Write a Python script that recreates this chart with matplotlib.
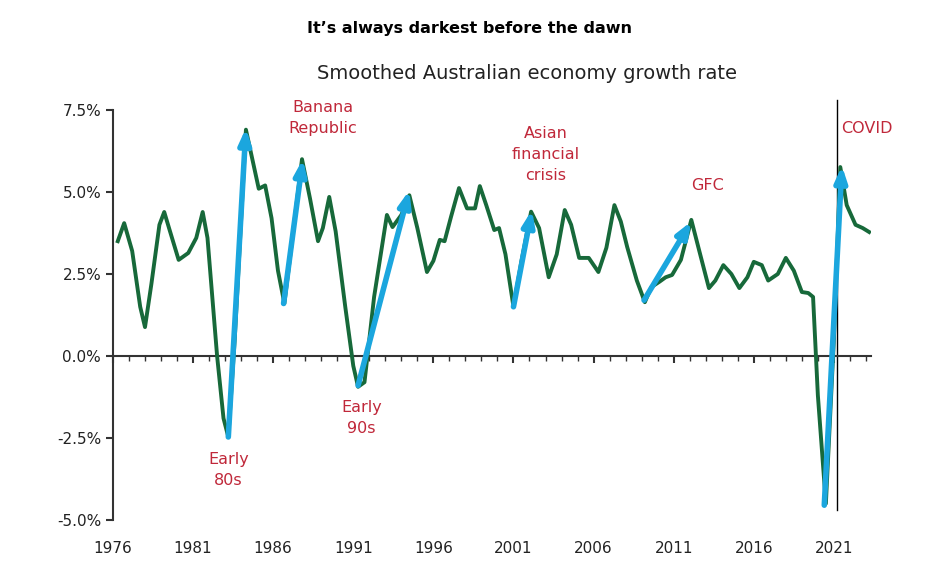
import numpy as np
import matplotlib.pyplot as plt

# smoothed growth rate (year, % y/y)
years = [1976.3, 1976.7, 1977.2, 1977.7, 1978.0, 1978.4, 1978.9, 1979.2, 1979.5,
         1980.1, 1980.7, 1981.2, 1981.6, 1981.9, 1982.5, 1982.9, 1983.2, 1983.6,
         1984.3, 1984.7, 1985.1, 1985.5, 1985.9, 1986.3, 1986.7, 1987.2, 1987.8,
         1988.3, 1988.8, 1989.1, 1989.5, 1989.9, 1990.5, 1991.0, 1991.3, 1991.7,
         1992.3, 1993.1, 1993.45, 1994.0, 1994.5, 1995.0, 1995.6, 1996.0, 1996.4,
         1996.7, 1997.1, 1997.6, 1998.1, 1998.6, 1998.9, 1999.3, 1999.8, 2000.1,
         2000.5, 2001.0, 2001.5, 2002.1, 2002.6, 2003.2, 2003.7, 2004.2, 2004.6,
         2005.1, 2005.7, 2006.3, 2006.8, 2007.3, 2007.7, 2008.1, 2008.7, 2009.2,
         2009.6, 2010.1, 2010.5, 2010.9, 2011.45, 2012.1, 2012.6, 2013.2, 2013.6,
         2014.1, 2014.6, 2015.1, 2015.6, 2016.0, 2016.5, 2016.9, 2017.5, 2018.0,
         2018.5, 2019.0, 2019.4, 2019.7, 2020.0, 2020.5, 2021.0, 2021.4, 2021.8,
         2022.35, 2022.8, 2023.2]
growth = [3.5, 4.05, 3.2, 1.5, 0.88, 2.2, 4.0, 4.39, 3.9,
          2.93, 3.14, 3.6, 4.39, 3.6, 0.0, -1.9, -2.47, 0.5,
          6.9, 6.0, 5.1, 5.2, 4.2, 2.6, 1.6, 3.6, 6.0,
          4.8, 3.5, 3.9, 4.85, 3.8, 1.5, -0.3, -0.94, -0.8,
          1.8, 4.3, 3.93, 4.3, 4.9, 3.9, 2.56, 2.9, 3.54,
          3.5, 4.24, 5.12, 4.5, 4.5, 5.18, 4.6, 3.84, 3.9,
          3.1, 1.5, 2.9, 4.4, 3.9, 2.4, 3.1, 4.45, 4.0,
          2.99, 2.99, 2.56, 3.3, 4.6, 4.1, 3.32, 2.3, 1.64,
          2.1, 2.26, 2.4, 2.47, 2.93, 4.15, 3.2, 2.07, 2.3,
          2.77, 2.5, 2.07, 2.4, 2.87, 2.77, 2.3, 2.5, 2.99,
          2.6, 1.95, 1.92, 1.8, -1.2, -4.5, 0.5, 5.76, 4.6,
          4.0, 3.9, 3.78]

# recovery arrows: (start year, start value, end year, end value)
arr_x0 = [1983.2, 1986.65, 1991.3, 2001.0, 2009.15, 2020.4]
arr_y0 = [-2.47, 1.6, -0.9, 1.5, 1.7, -4.55]
arr_x1 = [1984.3, 1987.85, 1994.5, 2002.15, 2012.1, 2021.5]
arr_y1 = [6.95, 6.0, 5.05, 4.45, 4.1, 5.8]

labels = ["Early\n80s", "Banana\nRepublic", "Early\n90s", "Asian\nfinancial\ncrisis", "GFC", "COVID"]
label_x = [1983.2, 1989.1, 1991.5, 2003.0, 2013.1, 2023.05]
label_y = [-3.48, 7.26, -1.89, 6.13, 5.21, 6.95]

covid_line = 2021.2
ytick_vals = [-5.0, -2.5, 0.0, 2.5, 5.0, 7.5]
xtick_years = list(range(1976, 2022, 5))

green = "#17693a"
blue = "#1ba6de"
red = "#c0283a"

fig = plt.figure(figsize=(9.39, 5.75), dpi=100)
ax = fig.add_axes([0.1203, 0.0957, 0.807, 0.713])

ax.plot(years, growth, color=green, lw=2.8, solid_joinstyle="round", zorder=3)

for x0, y0, x1, y1 in zip(arr_x0, arr_y0, arr_x1, arr_y1):
    ax.annotate("", xy=(x1, y1), xytext=(x0, y0),
                arrowprops=dict(arrowstyle="-|>,head_length=0.9,head_width=0.35",
                                color=blue, lw=4, shrinkA=0, shrinkB=0),
                zorder=4)

for t, lx, ly in zip(labels, label_x, label_y):
    ax.text(lx, ly, t, color=red, fontsize=11.5, ha="center", va="center",
            linespacing=1.5, zorder=5)

ax.plot([covid_line, covid_line], [-4.7, 7.8], color="black", lw=1, clip_on=False, zorder=2)

ax.set_xlim(1976, 2023.3)
ax.set_ylim(-5, 7.5)

ax.spines["top"].set_visible(False)
ax.spines["right"].set_visible(False)
ax.spines["left"].set_color("#333333")
ax.spines["left"].set_linewidth(1.5)
ax.spines["bottom"].set_position(("data", 0))
ax.spines["bottom"].set_color("#333333")
ax.spines["bottom"].set_linewidth(1.5)

ax.set_yticks(ytick_vals)
ax.set_yticklabels([f"{v:.1f}%" for v in ytick_vals])
ax.tick_params(axis="y", direction="out", length=5, width=1.5, color="#333333",
               labelsize=11, labelcolor="#222222")

ax.set_xticks(xtick_years)
ax.set_xticks(range(1976, 2024), minor=True)
ax.tick_params(axis="x", which="both", direction="out", labelbottom=False,
               color="#333333")
ax.tick_params(axis="x", which="major", length=5, width=1.5)
ax.tick_params(axis="x", which="minor", length=3.5, width=1)

sec = ax.secondary_xaxis("bottom")
sec.set_xticks(xtick_years)
sec.set_xticklabels([str(y) for y in xtick_years])
sec.spines["bottom"].set_visible(False)
sec.tick_params(length=0, pad=15, labelsize=11, labelcolor="#222222")

fig.text(0.5, 0.951, "It\u2019s always darkest before the dawn", ha="center",
         va="center", fontsize=11.5, fontweight="bold")
fig.text(0.561, 0.873, "Smoothed Australian economy growth rate", ha="center",
         va="center", fontsize=14, color="#222222")

fig.savefig("out.png", dpi=100, facecolor="white")
